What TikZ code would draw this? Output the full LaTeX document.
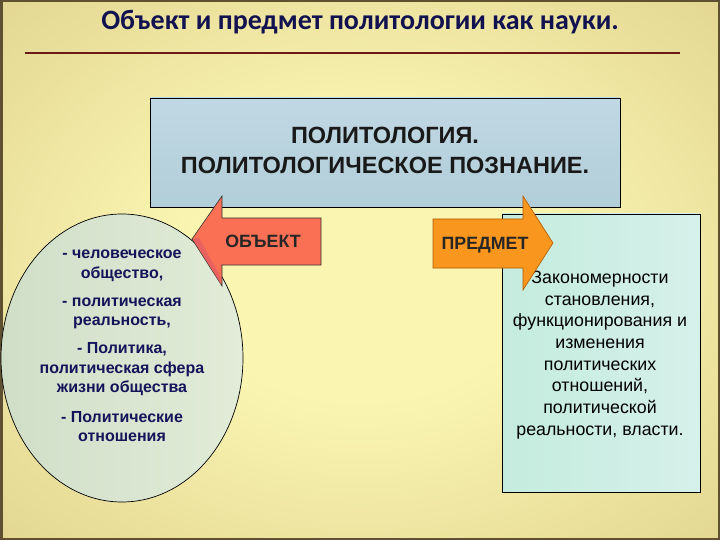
\documentclass[tikz,border=0pt]{standalone}
\usepackage{fontspec}
\setmainfont{Liberation Sans}
\newfontfamily\titlefont{Carlito}
\usetikzlibrary{shapes.geometric}
\definecolor{bgin}{RGB}{250,246,178}
\definecolor{bgmid}{RGB}{222,208,140}
\definecolor{bgout}{RGB}{176,156,102}
\definecolor{framecol}{RGB}{95,80,50}
\definecolor{titlecol}{RGB}{18,18,80}
\definecolor{rulecol}{RGB}{110,25,25}
\definecolor{topfillA}{RGB}{192,216,228}
\definecolor{topfillB}{RGB}{178,206,216}
\definecolor{ellA}{RGB}{208,222,200}
\definecolor{ellB}{RGB}{226,236,216}
\definecolor{ellText}{RGB}{20,20,90}
\definecolor{rboxA}{RGB}{196,236,222}
\definecolor{rboxB}{RGB}{214,240,234}
\definecolor{objcol}{RGB}{250,112,84}
\definecolor{objbevel}{RGB}{232,96,96}
\definecolor{predcol}{RGB}{248,150,30}
\pgfdeclareradialshading{bgshade}{\pgfpoint{0bp}{0bp}}{color(0bp)=(bgin); color(12bp)=(bgin); color(40bp)=(bgmid); color(71bp)=(bgout)}
\begin{document}
\begin{tikzpicture}[x=1pt,y=-1pt,
  boxline/.style={draw=black, line width=0.8pt},
  toptext/.style={align=center, font=\bfseries\fontsize{23.5}{30}\selectfont, text=black!90},
  elltext/.style={align=center, font=\bfseries\fontsize{16}{19.5}\selectfont, text=ellText},
  rtext/.style={align=center, font=\fontsize{17.8}{21.7}\selectfont, text=black},
  arrowtext/.style={font=\bfseries\fontsize{17.8}{20}\selectfont, text=black!85}]
\useasboundingbox (0,0) rectangle (720,540);
\fill[shading=bgshade] (0,0) rectangle (720,540);
\draw[framecol, line width=2.5pt] (1.25,1.25) rectangle (718.75,538.75);
% title
\node[font=\titlefont\bfseries\fontsize{28}{32}\selectfont, text=titlecol] (title) at (360,22) {Объект и предмет политологии как науки.};
\coordinate (r1) at (25,53);
\coordinate (r2) at (680,53);
\draw[rulecol, line width=2pt] (r1) -- (r2);
% top box
\node[boxline, top color=topfillA, bottom color=topfillB, minimum width=470pt, minimum height=109pt, inner sep=0pt] (top) at (385,152.5) {};
\node[toptext] (toptxt) at (385,150) {ПОЛИТОЛОГИЯ.\\ПОЛИТОЛОГИЧЕСКОЕ ПОЗНАНИЕ.};
% ellipse
\node[ellipse, draw=black, line width=0.7pt, left color=ellA, right color=ellB, minimum width=242pt, minimum height=288pt, inner sep=0pt] (ell) at (122,358) {};
\node[elltext] (elltxt) at (122,346) {- человеческое\\общество,\\[8.5pt]- политическая\\реальность,\\[8.5pt]- Политика,\\политическая сфера\\жизни общества\\[10pt]- Политические\\отношения};
% right box
\node[boxline, left color=rboxA, right color=rboxB, minimum width=198pt, minimum height=278pt, inner sep=0pt] (rbox) at (601,353) {};
\node[rtext] (rtxt) at (600,355) {Закономерности\\становления,\\функционирования и\\изменения\\политических\\отношений,\\политической\\реальности, власти.};
% object arrow
\draw[fill=objcol, draw=black!80, line width=0.6pt] (321,218) -- (222,218) -- (222,196) -- (192,239) -- (222,286) -- (222,265) -- (321,265) -- cycle;
\fill[objbevel] (193,239) -- (199,238) -- (221,278) -- (221,284) -- cycle;
\node[arrowtext] (obj) at (263,241) {ОБЪЕКТ};
% subject arrow
\draw[fill=predcol, draw=orange!70!black, line width=0.6pt] (433,219) -- (523,219) -- (523,196) -- (553,243) -- (523,290) -- (523,268) -- (433,268) -- cycle;
\node[arrowtext] (pred) at (485,245) {ПРЕДМЕТ};
\end{tikzpicture}
\end{document}
